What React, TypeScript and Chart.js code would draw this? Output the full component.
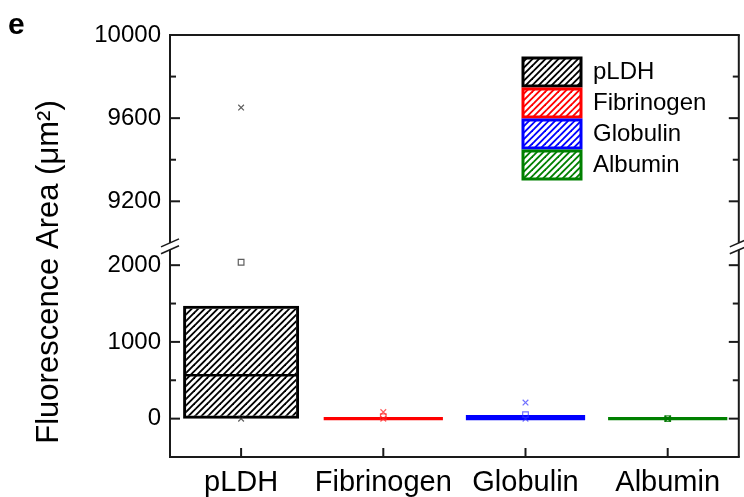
import React, { useEffect, useRef } from 'react';
import { Chart, registerables } from 'chart.js';

Chart.register(...registerables);

// ---------- data ----------
const CATEGORIES = ['pLDH', 'Fibrinogen', 'Globulin', 'Albumin'];
const BOX_LOW = [0, 0, 0, 0];
const BOX_HIGH = [1470, 0, 25, 0];
const MEDIANS = [565, 0, 0, 0];
const MEANS = [2038, 25, 52, 0];
const MAXIMA = [9651, 85, 209, 0];
const MINIMA = [0, 0, 0, 0];

const UPPER_TICKS = [9200, 9600, 10000];
const UPPER_MINOR = [9400, 9800];
const LOWER_TICKS = [0, 1000, 2000];
const LOWER_MINOR = [500, 1500];
const UPPER_MIN = 8985;
const UPPER_MAX = 10000;
const LOWER_MIN = -500;
const LOWER_MAX = 2250;
const BREAK_UPPER = 9000;
const BREAK_LOWER = 2200;

const COLORS = ['#000000', '#ff0000', '#0000ff', '#008000'];
const MARKER_COLORS = ['rgba(40,40,40,0.75)', 'rgba(255,40,40,0.75)', 'rgba(40,40,255,0.65)', 'rgba(0,120,0,0.8)'];

const Y_TITLE = 'Fluorescence Area (\u03bcm\u00b2)';
const PANEL_LABEL = 'e';

const FONT = '"Liberation Sans", Arial, Helvetica, sans-serif';

function makeHatch(ctx: CanvasRenderingContext2D, color: string): CanvasPattern | string {
  const s = 13;
  const c = document.createElement('canvas');
  c.width = s;
  c.height = s;
  const g = c.getContext('2d');
  if (!g) return color;
  g.strokeStyle = color;
  g.lineWidth = 1.9;
  for (let k = 0; k <= 4; k++) {
    const cc = k * 6.5;
    g.beginPath();
    g.moveTo(-3, cc + 3);
    g.lineTo(s + 3, cc - s - 3);
    g.stroke();
  }
  return ctx.createPattern(c, 'repeat') || color;
}

const framePlugin = {
  id: 'frameAndBreaks',
  beforeDraw(chart: any) {
    const lg = chart.legend;
    if (lg) {
      lg.left = 520;
      lg.top = 55;
      lg.right = lg.left + 220;
      lg.bottom = lg.top + 200;
    }
  },
  afterDraw(chart: any) {
    const ctx: CanvasRenderingContext2D = chart.ctx;
    const { left, right, top, bottom } = chart.chartArea;
    const yT = chart.scales.yTop;
    const yB = chart.scales.yBot;
    const xS = chart.scales.x;
    const upEnd = yT.getPixelForValue(BREAK_UPPER);
    const lowStart = yB.getPixelForValue(BREAK_LOWER);

    ctx.save();
    ctx.strokeStyle = '#1a1a1a';
    ctx.lineWidth = 2;
    ctx.lineCap = 'butt';
    const seg = (x1: number, y1: number, x2: number, y2: number) => {
      ctx.beginPath();
      ctx.moveTo(x1, y1);
      ctx.lineTo(x2, y2);
      ctx.stroke();
    };
    // frame
    seg(left - 1, top, right + 1, top);
    seg(left - 1, bottom, right + 1, bottom);
    for (const xx of [left, right]) {
      seg(xx, top, xx, upEnd);
      seg(xx, lowStart, xx, bottom);
    }
    // inward ticks
    const yTicks = (scale: any, vals: number[], len: number) => {
      for (const v of vals) {
        const p = scale.getPixelForValue(v);
        seg(left, p, left + len, p);
        seg(right, p, right - len, p);
      }
    };
    yTicks(yT, UPPER_TICKS, 10);
    yTicks(yT, UPPER_MINOR, 6);
    yTicks(yB, LOWER_TICKS, 10);
    yTicks(yB, LOWER_MINOR, 6);
    CATEGORIES.forEach((_, i) => {
      const p = xS.getPixelForValue(i);
      seg(p, bottom, p, bottom - 9);
    });
    // break marks
    ctx.lineWidth = 1.6;
    for (const xx of [left, right]) {
      for (const yy of [upEnd, lowStart]) {
        seg(xx - 9, yy + 4, xx + 9, yy - 4);
      }
    }
    // y title
    ctx.fillStyle = '#000';
    ctx.font = '31px ' + FONT;
    ctx.textAlign = 'center';
    ctx.textBaseline = 'alphabetic';
    ctx.translate(58, 272);
    ctx.rotate(-Math.PI / 2);
    ctx.fillText(Y_TITLE, 0, 0);
    ctx.restore();
  },
};

export default function App() {
  const ref = useRef<HTMLCanvasElement>(null);

  useEffect(() => {
    const canvas = ref.current;
    if (!canvas) return;
    const ctx = canvas.getContext('2d');
    if (!ctx) return;
    Chart.defaults.font.family = FONT;
    const patterns = COLORS.map((c) => makeHatch(ctx, c));

    const boxDatasets = CATEGORIES.map((name, i) => {
      const thin = BOX_HIGH[i] - BOX_LOW[i] < 100;
      return {
        type: 'bar',
        label: name,
        yAxisID: 'yBot',
        order: 2,
        data: CATEGORIES.map((_, j) => (j === i ? [BOX_LOW[i], BOX_HIGH[i]] : null)),
        backgroundColor: CATEGORIES.map((_, j) => (j === i && thin ? COLORS[i] : patterns[i])),
        borderColor: COLORS[i],
        borderWidth: CATEGORIES.map((_, j) => (j === i && thin ? 0 : 3)),
        borderSkipped: false,
        inflateAmount: thin ? 1.6 : 'auto',
        grouped: false,
        barPercentage: 0.816,
        categoryPercentage: 1,
      };
    });

    const medianDataset = {
      type: 'bar',
      label: '',
      yAxisID: 'yBot',
      order: 1,
      data: MEDIANS.map((m) => [m, m]),
      backgroundColor: COLORS,
      borderWidth: 0,
      borderSkipped: false,
      inflateAmount: 1.3,
      grouped: false,
      barPercentage: 0.785,
      categoryPercentage: 1,
    };

    const markerSet = (label: string, values: (number | null)[], style: string, axis: string) => ({
      type: 'line',
      label,
      yAxisID: axis,
      order: 0,
      showLine: false,
      data: values,
      pointStyle: style,
      pointRadius: 4,
      pointHoverRadius: 4,
      pointBorderWidth: 1.2,
      pointBorderColor: MARKER_COLORS,
      pointBackgroundColor: 'rgba(0,0,0,0)',
      borderColor: 'rgba(0,0,0,0)',
      backgroundColor: 'rgba(0,0,0,0)',
    });

    const datasets: any[] = [
      ...boxDatasets,
      medianDataset,
      markerSet('max-upper', MAXIMA.map((v) => (v > LOWER_MAX ? v : null)), 'crossRot', 'yTop'),
      markerSet('max-lower', MAXIMA.map((v) => (v <= LOWER_MAX ? v : null)), 'crossRot', 'yBot'),
      markerSet('mean', MEANS, 'rect', 'yBot'),
      markerSet('min', MINIMA, 'crossRot', 'yBot'),
    ];

    const yCommon = {
      type: 'linear',
      position: 'left',
      stack: 'left',
      stackWeight: 1,
      grid: { display: false, drawTicks: false },
      border: { display: false },
      ticks: {
        font: { size: 24 },
        color: '#000',
        padding: 9,
        callback: (v: any) => String(v),
      },
      afterFit: (s: any) => {
        s.width = 162;
      },
    };

    const chart = new Chart(ctx, {
      type: 'bar',
      data: { labels: CATEGORIES, datasets },
      options: {
        responsive: false,
        devicePixelRatio: 1,
        animation: false,
        events: [],
        layout: { padding: { left: 8, right: 2, top: 0, bottom: 0 } },
        scales: {
          x: {
            type: 'category',
            labels: CATEGORIES,
            offset: true,
            grid: { display: false, drawTicks: false },
            border: { display: false },
            ticks: {
              font: { size: 29 },
              color: '#000',
              padding: 9,
              maxRotation: 0,
              minRotation: 0,
              autoSkip: false,
            },
            afterFit: (s: any) => {
              s.height = 40;
            },
          },
          yTop: {
            ...yCommon,
            weight: 1,
            min: UPPER_MIN,
            max: UPPER_MAX,
            afterBuildTicks: (s: any) => {
              s.ticks = UPPER_TICKS.map((v) => ({ value: v }));
            },
          },
          yBot: {
            ...yCommon,
            weight: 0,
            min: LOWER_MIN,
            max: LOWER_MAX,
            afterBuildTicks: (s: any) => {
              s.ticks = LOWER_TICKS.map((v) => ({ value: v }));
            },
          },
        },
        plugins: {
          legend: {
            position: 'chartArea',
            align: 'start',
            labels: {
              boxWidth: 58,
              boxHeight: 28,
              padding: 3,
              color: '#000',
              font: { size: 24 },
              filter: (item: any) => item.datasetIndex < CATEGORIES.length,
            },
          },
          title: {
            display: true,
            text: PANEL_LABEL,
            align: 'start',
            color: '#000',
            font: { size: 30, weight: 'bold', lineHeight: 0.6 },
            padding: { top: 17, bottom: 0 },
          },
          tooltip: { enabled: false },
        },
      } as any,
      plugins: [framePlugin],
    } as any);

    return () => chart.destroy();
  }, []);

  return (
    <div style={{ position: 'absolute', left: 0, top: 0, width: 744, height: 497, background: '#fff' }}>
      <canvas ref={ref} width={744} height={497} style={{ display: 'block' }} />
    </div>
  );
}
